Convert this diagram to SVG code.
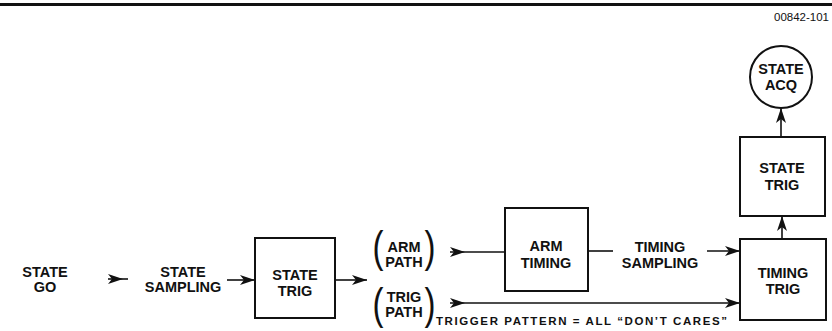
<svg xmlns="http://www.w3.org/2000/svg" width="832" height="331" viewBox="0 0 832 331">
<style>
.t{font-family:"Liberation Sans",Arial,sans-serif;font-weight:bold;font-size:14.5px;fill:#111;text-anchor:middle}
.p{font-family:"Liberation Sans",Arial,sans-serif;font-weight:normal;font-size:44px;fill:#111;text-anchor:middle}
.box{fill:#fff;stroke:#111;stroke-width:2}
.ln{fill:none;stroke:#111;stroke-width:1.6}
</style>
<defs>
<marker id="ae" markerUnits="userSpaceOnUse" markerWidth="16" markerHeight="10" refX="15" refY="5" orient="auto">
<path d="M0,0 L15,5 L0,10 L4,5 z" fill="#111"/>
</marker>
<marker id="as" markerUnits="userSpaceOnUse" markerWidth="16" markerHeight="10" refX="0" refY="5" orient="auto">
<path d="M0,0 L15,5 L0,10 L4,5 z" fill="#111"/>
</marker>
</defs>
<rect width="832" height="331" fill="#fff"/>
<line x1="0" y1="4.5" x2="832" y2="4.5" stroke="#111" stroke-width="3"/>
<text x="829" y="21" style="font-family:'Liberation Sans',Arial,sans-serif;font-size:11.5px;fill:#111;text-anchor:end">00842-101</text>

<g id="connectors">
<path class="ln" d="M108,279 H128" marker-start="url(#as)"/>
<path class="ln" d="M227,280 H255" marker-end="url(#ae)"/>
<path class="ln" d="M335,280 H367" marker-end="url(#ae)"/>
<path class="ln" d="M450,252 H505" marker-start="url(#as)"/>
<path class="ln" d="M588,251 H613"/>
<path class="ln" d="M707,251 H740" marker-end="url(#ae)"/>
<path class="ln" d="M450,303 H740" marker-start="url(#as)" marker-end="url(#ae)"/>
<path class="ln" d="M782,239 V216" marker-end="url(#ae)"/>
<path class="ln" d="M781,137 V108" marker-end="url(#ae)"/>
</g>

<g id="state-go">
<text class="t" x="45" y="277">STATE</text>
<text class="t" x="45" y="292">GO</text>
</g>
<g id="state-sampling">
<text class="t" x="183" y="277">STATE</text>
<text class="t" x="183" y="292">SAMPLING</text>
</g>
<g id="state-trig-1">
<rect class="box" x="255" y="238" width="80" height="80"/>
<text class="t" x="295" y="280">STATE</text>
<text class="t" x="295" y="296">TRIG</text>
</g>
<g id="arm-path">
<text class="p" transform="translate(378,262) scale(0.75,1)">(</text>
<text class="p" transform="translate(430,262) scale(0.75,1)">)</text>
<text class="t" x="404" y="252">ARM</text>
<text class="t" x="404" y="267">PATH</text>
</g>
<g id="trig-path">
<text class="p" transform="translate(378,319) scale(0.75,1)">(</text>
<text class="p" transform="translate(430,319) scale(0.75,1)">)</text>
<text class="t" x="404" y="302">TRIG</text>
<text class="t" x="404" y="317">PATH</text>
</g>
<g id="arm-timing">
<rect class="box" x="505" y="208" width="83" height="83"/>
<text class="t" x="546" y="251">ARM</text>
<text class="t" x="546" y="268">TIMING</text>
</g>
<g id="timing-sampling">
<text class="t" x="660" y="252">TIMING</text>
<text class="t" x="660" y="268">SAMPLING</text>
</g>
<g id="timing-trig">
<rect class="box" x="740" y="239" width="86" height="81"/>
<text class="t" x="783" y="278">TIMING</text>
<text class="t" x="783" y="294">TRIG</text>
</g>
<g id="state-trig-2">
<rect class="box" x="740" y="137" width="85" height="79"/>
<text class="t" x="782" y="173">STATE</text>
<text class="t" x="782" y="190">TRIG</text>
</g>
<g id="state-acq">
<circle class="box" cx="781" cy="77" r="31"/>
<text class="t" x="781" y="74">STATE</text>
<text class="t" x="781" y="90">ACQ</text>
</g>
<g id="trigger-note">
<text x="436" y="325" textLength="291" lengthAdjust="spacing" style="font-family:'Liberation Sans',Arial,sans-serif;font-weight:bold;font-size:11.5px;fill:#111">TRIGGER PATTERN = ALL “DON’T CARES”</text>
</g>
</svg>
